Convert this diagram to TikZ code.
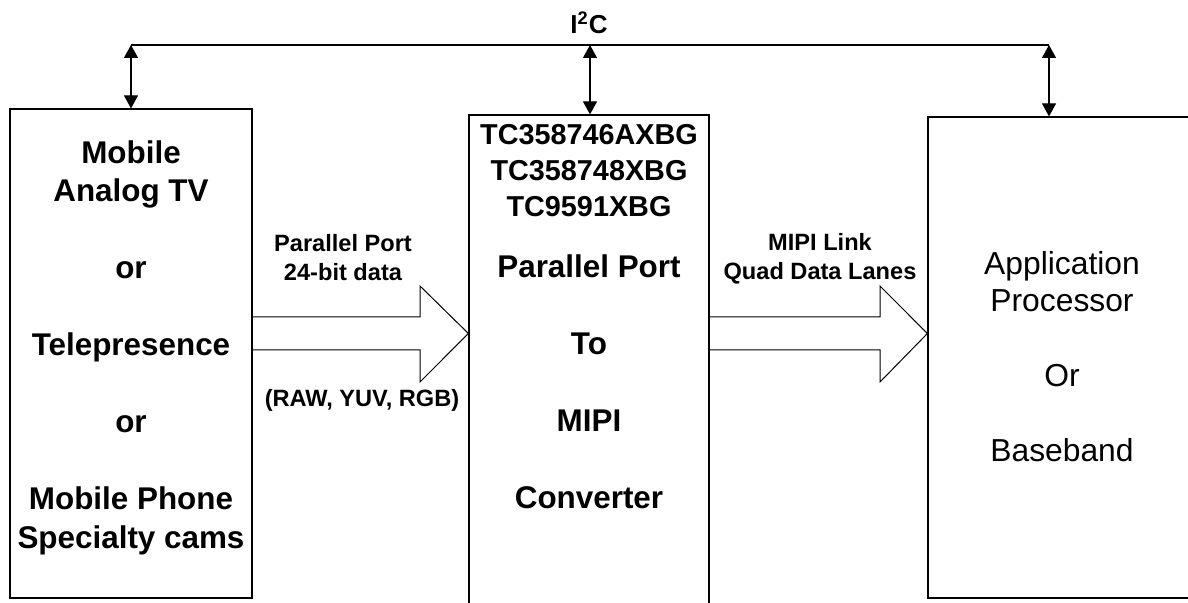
\documentclass[tikz,border=0pt]{standalone}
\usepackage{fontspec}
\setmainfont{Liberation Sans}
\usetikzlibrary{arrows.meta}
\tikzset{>=stealth}

\begin{document}
\begin{tikzpicture}[x=0.5pt,y=-0.5pt,
    box/.style={draw,line width=0.6pt,inner sep=0pt},
    bus/.style={line width=0.6pt},
    dbl/.style={{Triangle[width=7pt,length=6.5pt]}-{Triangle[width=7pt,length=6.5pt]},line width=0.6pt},
    flow/.style={line width=0.5pt,line join=miter},
    big/.style={font=\bfseries\fontsize{15.7}{19.25}\selectfont,align=center},
    chip/.style={font=\bfseries\fontsize{14.4}{18}\selectfont,align=center},
    plain/.style={font=\fontsize{15.9}{18.75}\selectfont,align=center},
    lbl/.style={font=\bfseries\fontsize{11.8}{14.25}\selectfont,align=center}]
    \useasboundingbox (0,0) rectangle (1188,603);
    \clip (0,0) rectangle (1188,603);
    \node[box,minimum width=121pt,minimum height=244.5pt] (src) at (131,353.5) {};
    \node[box,minimum width=120pt,minimum height=252.5pt] (conv) at (589,367.5) {};
    \node[box,minimum width=134pt,minimum height=240.5pt] (host) at (1062,357.5) {};
    \coordinate (busL) at (131,45);
    \coordinate (busM) at (590,45);
    \coordinate (busR) at (1049,45);
    \node[font=\bfseries\fontsize{13}{15}\selectfont] (i2c) at (589,23) {I\textsuperscript{2}C};
    \draw[bus] (busL) -- (busR);
    \draw[dbl] (busL) -- (busL |- src.north);
    \draw[dbl] (busM) -- (busM |- conv.north);
    \draw[dbl] (busR) -- (busR |- host.north);
    \draw[flow] (src.east |- 0,317) -- (420,317) -- (420,286) -- (conv.west |- 0,333.5)
        -- (420,382) -- (420,350) -- (src.east |- 0,350);
    \draw[flow] (conv.east |- 0,317) -- (880,317) -- (880,286) -- (host.west |- 0,333.5)
        -- (880,382) -- (880,350) -- (conv.east |- 0,350);
    \node[big] (srctxt) at (131,347.5) {Mobile\\Analog TV\\[19.25pt]or\\[19.25pt]Telepresence\\[19.25pt]or\\[19.25pt]Mobile Phone\\Specialty cams};
    \node[chip] (parts) at (589,171) {TC358746AXBG\\TC358748XBG\\TC9591XBG};
    \node[big] (convtxt) at (589,381.5) {Parallel Port\\[19.25pt]To\\[19.25pt]MIPI\\[19.25pt]Converter};
    \node[plain] (hosttxt) at (1062,356.75) {Application\\Processor\\[18.75pt]Or\\[18.75pt]Baseband};
    \node[lbl] (pplbl) at (343,257.5) {Parallel Port\\24-bit data};
    \node[lbl] (fmtlbl) at (362,400) {(RAW, YUV, RGB)};
    \node[lbl] (mipilbl) at (820,259) {MIPI Link\\Quad Data Lanes};
\end{tikzpicture}
\end{document}
